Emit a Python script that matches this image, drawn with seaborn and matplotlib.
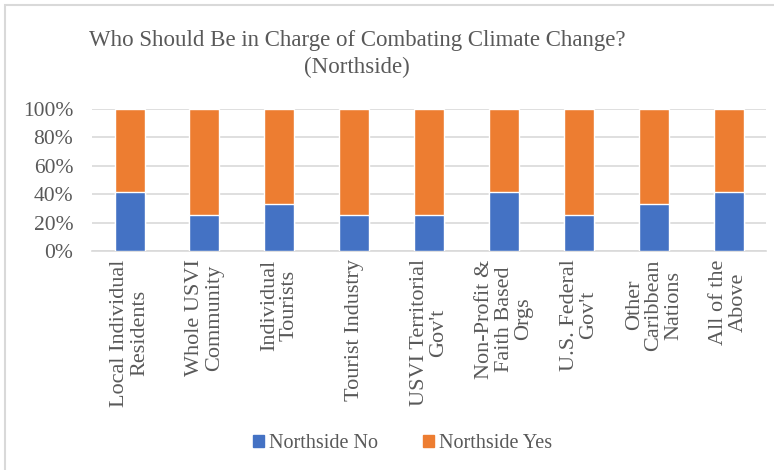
import matplotlib
matplotlib.use("Agg")
import matplotlib.pyplot as plt
import matplotlib.patches as mpatches
from matplotlib.ticker import PercentFormatter
import pandas as pd
import seaborn as sns

# Survey responses, share of respondents (%)
categories = [
    "Local Individual\nResidents",
    "Whole USVI\nCommunity",
    "Individual\nTourists",
    "Tourist Industry",
    "USVI Territorial\nGov't",
    "Non-Profit &\nFaith Based\nOrgs",
    "U.S. Federal\nGov't",
    "Other\nCaribbean\nNations",
    "All of the\nAbove",
]
northside_no = [41.7, 25.0, 33.3, 25.0, 25.0, 41.7, 25.0, 33.3, 41.7]
northside_yes = [58.3, 75.0, 66.7, 75.0, 75.0, 58.3, 75.0, 66.7, 58.3]
series_names = ["Northside No", "Northside Yes"]
title_text = "Who Should Be in Charge of Combating Climate Change?\n(Northside)"

BLUE = "#4472C4"
ORANGE = "#ED7D31"
GRID = "#D9D9D9"
TEXT = "#595959"

sns.set_theme(style="white")
plt.rcParams["font.family"] = ["Liberation Serif", "DejaVu Serif"]

df = pd.DataFrame({
    "category": categories,
    "no": northside_no,
    "yes": northside_yes,
})
df["top"] = df["no"] + df["yes"]

fig = plt.figure(figsize=(7.74, 4.70), dpi=100)
ax = fig.add_axes([0.119, 0.466, 0.871, 0.302])

# Stacked bars: full stack in orange, lower segment in blue over it
sns.barplot(data=df, x="category", y="top", color=ORANGE, width=0.4,
            saturation=1, ax=ax, zorder=2)
sns.barplot(data=df, x="category", y="no", color=BLUE, width=0.4,
            saturation=1, ax=ax, zorder=3)

ax.set_ylim(0, 100)
ax.set_xlim(-0.5, len(categories) - 0.5)
ax.set_yticks([0, 20, 40, 60, 80, 100])
ax.yaxis.set_major_formatter(PercentFormatter(decimals=0))
ax.grid(axis="y", color=GRID, linewidth=1.2, zorder=0)
ax.set_axisbelow(True)
for side in ["top", "right", "left"]:
    ax.spines[side].set_visible(False)
ax.spines["bottom"].set_color(GRID)
ax.spines["bottom"].set_linewidth(1.2)
ax.set_xlabel("")
ax.set_ylabel("")
ax.tick_params(axis="both", length=0, colors=TEXT)
ax.tick_params(axis="y", labelsize=15.5, pad=13.5)
ax.set_xticks(range(len(categories)))
ax.set_xticklabels(categories, rotation=90, ha="center", va="top",
                   multialignment="center", fontsize=16, color=TEXT,
                   linespacing=1.05)
ax.tick_params(axis="x", pad=6)

fig.text(0.461, 0.885, title_text, ha="center", va="center", fontsize=16.5,
         color=TEXT, linespacing=1.35)

handles = [mpatches.Patch(color=BLUE, label=series_names[0]),
           mpatches.Patch(color=ORANGE, label=series_names[1])]
leg = fig.legend(handles=handles, loc="center", bbox_to_anchor=(0.52, 0.056),
                 ncol=2, frameon=False, fontsize=14.5, handlelength=0.55,
                 handleheight=0.55, handletextpad=0.25, columnspacing=2.2)
for t in leg.get_texts():
    t.set_color(TEXT)

# Chart-area border
fig.patches.append(mpatches.Rectangle((0.007, -0.1), 1.2, 1.089, fill=False,
                                      edgecolor=GRID, linewidth=1.5,
                                      transform=fig.transFigure, figure=fig))

fig.savefig("out.png", dpi=100, facecolor="white")
